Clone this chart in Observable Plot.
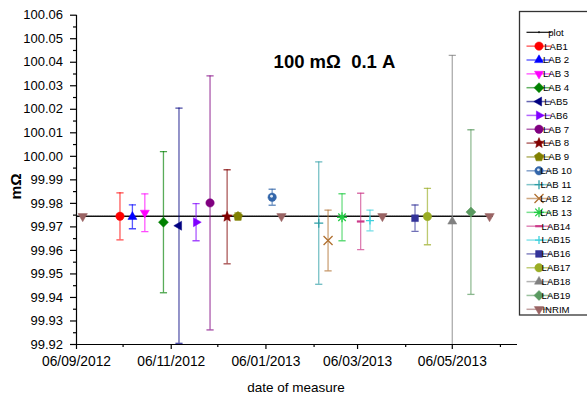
<!DOCTYPE html>
<html><head><meta charset="utf-8">
<script src="https://cdn.jsdelivr.net/npm/d3@7"></script>
<script src="https://cdn.jsdelivr.net/npm/@observablehq/plot@0.6"></script>
<style>
body{margin:0;background:#fff;}
#wrap{position:relative;width:587px;height:399px;overflow:hidden;background:#fff;}
</style></head><body><div id="wrap"></div>
<script>
const FONT = "'Liberation Sans', Arial, Helvetica, sans-serif";

// ---- data ----
const labNames  = ["LAB1","LAB 2","LAB 3","LAB 4","LAB5","LAB6","LAB 7","LAB 8","LAB 9","LAB 10",
                   "LAB 11","LAB 12","LAB 13","LAB14","LAB15","LAB16","LAB17","LAB18","LAB19"];
const labDates  = ["2012-10-04","2012-10-12","2012-10-20","2012-11-01","2012-11-11","2012-11-22","2012-12-01","2012-12-12","2012-12-19","2013-01-10",
                   "2013-02-09","2013-02-15","2013-02-24","2013-03-08","2013-03-14","2013-04-12","2013-04-20","2013-05-06","2013-05-18"];
const labValues = [99.9745,99.9743,99.9760,99.9720,99.9705,99.9720,99.9802,99.9743,99.9745,99.9826,
                   99.9716,99.9642,99.9741,99.9723,99.9727,99.9737,99.9744,99.9723,99.9763];
const labErrors = [0.0100,0.0051,0.0080,0.0300,0.0500,0.0079,0.0540,0.0200,0.0015,0.0034,
                   0.0260,0.0129,0.0100,0.0120,0.0044,0.0056,0.0120,0.0706,0.0350];
const inrimDates  = ["2012-09-10","2013-01-16","2013-03-22","2013-05-30"];
const inrimValues = [99.9745,99.9745,99.9745,99.9745];
const refDates  = ["2012-09-06","2013-06-01"];
const refValues = [99.9745,99.9745];

const xDomain = ["2012-09-06","2013-06-17"];
const yDomain = [99.92, 100.06];
const xMajorTicks = ["2012-09-06","2012-11-06","2013-01-06","2013-03-06","2013-05-06"];
const xMinorTicks = ["2012-10-06","2012-12-06","2013-02-06","2013-04-06","2013-06-06"];
const yMajorTicks = [99.92,99.93,99.94,99.95,99.96,99.97,99.98,99.99,100.00,100.01,100.02,100.03,100.04,100.05,100.06];
const yMinorTicks = [99.925,99.935,99.945,99.955,99.965,99.975,99.985,99.995,100.005,100.015,100.025,100.035,100.045,100.055];
const titleText = "100 m\u03A9\u00A0 0.1 A";
const yLabel = "m\u03A9";
const xLabel = "date of measure";

// ---- styles ----
const labColors = ["#ff0000","#0000ff","#ff00ff","#008000","#000080","#8000ff","#800080","#800000","#808000","#3366aa",
                   "#2e9ea6","#b07030","#22cc44","#cc3a8a","#3cd0dc","#333399","#9aad24","#808080","#5a9a60"];
const inrimColor = "#9a6464";

const R = s => Math.sqrt(s / Math.PI);
function poly(n, rot) {
  return {draw(c, s) {
    const r = R(s);
    for (let i = 0; i < n; i++) {
      const a = rot + i * 2 * Math.PI / n;
      const x = r * Math.sin(a), y = -r * Math.cos(a);
      if (i) c.lineTo(x, y); else c.moveTo(x, y);
    }
    c.closePath();
  }};
}
const SYM = {
  circle: {draw(c, s) { const r = R(s); c.moveTo(r, 0); c.arc(0, 0, r, 0, 2 * Math.PI); }},
  triUp: poly(3, 0), triDown: poly(3, Math.PI), triLeft: poly(3, -Math.PI / 2), triRight: poly(3, Math.PI / 2),
  diamond: poly(4, 0), square: poly(4, Math.PI / 4), pentagon: poly(5, 0),
  star: {draw(c, s) { const r = R(s), ri = r * 0.45;
    for (let i = 0; i < 10; i++) { const a = i * Math.PI / 5, rr = i % 2 ? ri : r;
      const x = rr * Math.sin(a), y = -rr * Math.cos(a); if (i) c.lineTo(x, y); else c.moveTo(x, y); }
    c.closePath(); }},
  plus: {draw(c, s) { const r = R(s); c.moveTo(-r, 0); c.lineTo(r, 0); c.moveTo(0, -r); c.lineTo(0, r); }},
  times: {draw(c, s) { const r = R(s) * 0.75; c.moveTo(-r, -r); c.lineTo(r, r); c.moveTo(-r, r); c.lineTo(r, -r); }},
  asterisk: {draw(c, s) { const r = R(s), q = r * 0.75; c.moveTo(-r, 0); c.lineTo(r, 0); c.moveTo(0, -r); c.lineTo(0, r);
    c.moveTo(-q, -q); c.lineTo(q, q); c.moveTo(-q, q); c.lineTo(q, -q); }},
  hline: {draw(c, s) { const r = R(s); c.moveTo(-r, 0); c.lineTo(r, 0); }}
};
// symbol, radius, filled?
const labSymbols = [
  ["circle",4.2,1],["triUp",5.2,1],["triDown",5.2,1],["diamond",5,1],["triLeft",5.2,1],["triRight",5.2,1],
  ["circle",4.2,1],["star",5.5,1],["pentagon",4.8,1],["circle",4.2,1],["plus",4.5,0],["times",6,0],
  ["asterisk",5,0],["hline",3.8,0],["plus",4,0],["square",4.8,1],["circle",4.2,1],["triUp",5.2,1],["diamond",5,1]
];

const labs = labNames.map((name, i) => ({
  name, date: new Date(labDates[i]), value: labValues[i], err: labErrors[i],
  color: labColors[i], sym: labSymbols[i]
}));
const inrim = inrimDates.map((d, i) => ({date: new Date(inrimDates[i]), value: inrimValues[i]}));
const ref = refDates.map((d, i) => ({date: new Date(d), value: refValues[i]}));

const marks = [];
marks.push(Plot.line(ref, {x: "date", y: "value", stroke: "#111", strokeWidth: 1.5, strokeDasharray: "1.6 0.7", clip: true}));
for (const d of labs) {
  marks.push(Plot.ruleX([d], {x: "date", y1: v => v.value - v.err, y2: v => v.value + v.err,
    stroke: d.color, strokeOpacity: 0.65, strokeWidth: 1.3, clip: true}));
  marks.push(Plot.dot([d], {x: "date", y: v => v.value + v.err, symbol: SYM.hline, r: 3.6,
    stroke: d.color, strokeOpacity: 0.7, strokeWidth: 1.3, clip: true}));
  marks.push(Plot.dot([d], {x: "date", y: v => v.value - v.err, symbol: SYM.hline, r: 3.6,
    stroke: d.color, strokeOpacity: 0.7, strokeWidth: 1.3, clip: true}));
}
for (const d of labs) {
  const [s, r, filled] = d.sym;
  if (filled) marks.push(Plot.dot([d], {x: "date", y: "value", symbol: SYM[s], r, fill: d.color, stroke: d.color, strokeWidth: 0.5}));
  else marks.push(Plot.dot([d], {x: "date", y: "value", symbol: SYM[s], r, stroke: d.color, strokeWidth: s === "hline" ? 2.2 : 1.3}));
  if (d.name === "LAB 10") marks.push(Plot.dot([d], {x: "date", y: "value", r: 1.4, fill: "#dde8f5", dx: -0.6, dy: -1}));
}
marks.push(Plot.dot(inrim, {x: "date", y: "value", symbol: SYM.triDown, r: 5.4, fill: inrimColor, stroke: inrimColor, strokeWidth: 0.5}));

// axes
marks.push(Plot.ruleY([yDomain[0]], {stroke: "black", strokeWidth: 1.2}));
marks.push(Plot.ruleX([new Date(xDomain[0])], {stroke: "black", strokeWidth: 1.2}));
marks.push(Plot.axisX({ticks: xMajorTicks.map(d => new Date(d)), tickFormat: d3.utcFormat("%d/%m/%Y"),
  tickSize: 5, tickPadding: 7, fontSize: 13.8, label: null, stroke: "black", strokeWidth: 1.2}));
marks.push(Plot.axisX({ticks: xMinorTicks.map(d => new Date(d)), tickFormat: () => "", tickSize: 3, label: null, stroke: "black", strokeWidth: 1.2}));
marks.push(Plot.axisY({ticks: yMajorTicks, tickFormat: d3.format(".2f"), tickSize: 6, tickPadding: 7.5,
  fontSize: 13, label: null, stroke: "black", strokeWidth: 1.2}));
marks.push(Plot.axisY({ticks: yMinorTicks, tickFormat: () => "", tickSize: 3, label: null, stroke: "black", strokeWidth: 1.2}));
// texts
marks.push(Plot.text([titleText], {frameAnchor: "top-left", dx: 258, dy: 46.5, textAnchor: "middle", lineAnchor: "middle",
  fontWeight: "bold", fontSize: 18.5, fill: "black"}));
marks.push(Plot.text([yLabel], {frameAnchor: "left", dx: -60, dy: 6.5, rotate: -90, textAnchor: "middle", lineAnchor: "middle",
  fontWeight: "bold", fontSize: 15.5, fill: "black"}));
marks.push(Plot.text([xLabel], {frameAnchor: "bottom", dx: -1, dy: 43, textAnchor: "middle", lineAnchor: "middle",
  fontSize: 13.5, fill: "black"}));

const chart = Plot.plot({
  width: 587, height: 399,
  marginLeft: 76, marginRight: 70, marginTop: 14.7, marginBottom: 55,
  style: {fontFamily: FONT, fontSize: "13px", color: "black", background: "white", overflow: "visible"},
  x: {type: "utc", domain: xDomain.map(d => new Date(d))},
  y: {domain: yDomain},
  marks
});
document.getElementById("wrap").appendChild(chart);

// ---- legend ----
const svg = d3.select(chart);
const lg = svg.append("g").attr("font-family", FONT).attr("font-size", 9.6);
lg.append("rect").attr("x", 519.5).attr("y", 11.5).attr("width", 90).attr("height", 303.5)
  .attr("fill", "white").attr("stroke", "#333").attr("stroke-width", 1.3);
const legendItems = [{name: "plot", color: "#111", sym: null}]
  .concat(labs.map(d => ({name: d.name, color: d.color, sym: d.sym})))
  .concat([{name: "INRIM", color: inrimColor, sym: ["triDown", 5.4, 1]}]);
legendItems.forEach((it, i) => {
  const y = 32.3 + i * 13.85;
  const g = lg.append("g").attr("transform", `translate(0,${y})`);
  g.append("line").attr("x1", 526.5).attr("x2", 551.5).attr("y1", 0).attr("y2", 0)
    .attr("stroke", it.color).attr("stroke-opacity", it.sym ? 0.6 : 1).attr("stroke-width", it.sym ? 1.5 : 1.2);
  if (it.sym) {
    const [s, r, filled] = it.sym;
    const p = d3.symbol().type(SYM[s]).size(Math.PI * r * r)();
    const path = g.append("path").attr("d", p).attr("transform", "translate(539,0)");
    if (filled) path.attr("fill", it.color).attr("stroke", it.color).attr("stroke-width", 0.5);
    else path.attr("fill", "none").attr("stroke", it.color).attr("stroke-width", s === "hline" ? 2.2 : 1.3);
    if (it.name === "LAB 10") g.append("circle").attr("cx", 538.4).attr("cy", -1).attr("r", 1.4).attr("fill", "#dde8f5");
  } else {
    g.append("circle").attr("cx", 539).attr("cy", 0).attr("r", 1).attr("fill", "#111");
  }
  g.append("text").attr("x", 556).attr("y", 0).attr("dy", "0.35em").attr("fill", "black").text(it.name);
});
</script></body></html>
